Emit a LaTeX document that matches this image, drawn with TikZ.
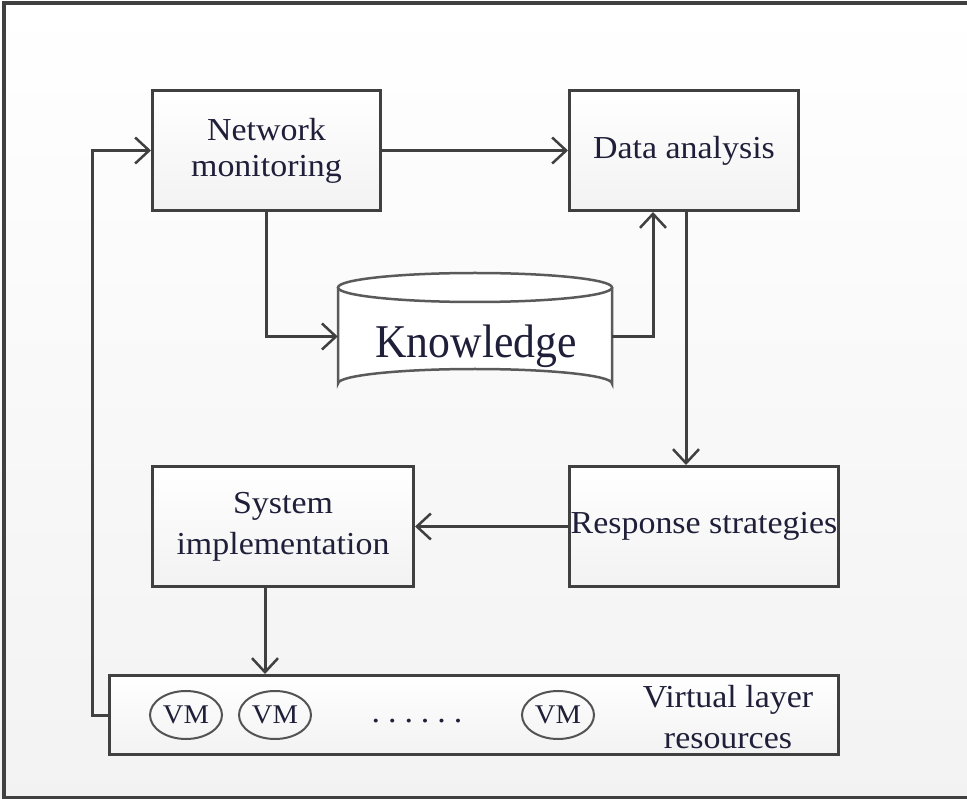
\documentclass[tikz,border=0pt]{standalone}
\usepackage{fontspec}
\setmainfont[FakeStretch=1.06]{Liberation Serif}
\newfontfamily\knowfont[FakeStretch=0.93]{Liberation Serif}
\usetikzlibrary{arrows.meta,shapes.geometric}
\definecolor{ink}{HTML}{1F1F3A}
\definecolor{edge}{HTML}{404040}
\definecolor{drum}{HTML}{5A5A5A}

\begin{document}
\begin{tikzpicture}[x=1pt,y=-1pt,
  box/.style={draw=edge, line width=3pt, top color=white, bottom color=black!5,
    text=ink, font=\fontsize{32}{33}\selectfont, align=center, inner sep=0pt},
  arr/.style={draw=edge, line width=3pt,
    -{Straight Barb[length=14pt,width=26pt,line width=2.5pt]}},
  vm/.style={ellipse, draw=edge!90, line width=2pt, minimum width=72pt,
    minimum height=48pt, inner sep=0pt, text=ink, font=\fontsize{27}{28}\selectfont},
  plain/.style={text=ink, font=\fontsize{32}{33}\selectfont, align=center, inner sep=0pt},
]
\useasboundingbox (0,0) rectangle (967,799);
% page background and frame
\fill[top color=white, bottom color=black!5] (0,0) rectangle (967,799);
\draw[edge, line width=4pt] (967,3.5) -- (3.5,3.5) -- (3.5,798) -- (967,798);

% process boxes
\node[box, minimum width=228pt, minimum height=120pt,
      font=\fontsize{32}{36}\selectfont] (nm) at (266.5,150.5) {Network\\monitoring};
\node[box, minimum width=229pt, minimum height=120pt] (da) at (684,150.5) {Data analysis};
\node[box, minimum width=269pt, minimum height=120pt] (rs) at (704,526.5) {Response strategies};
\node[box, minimum width=261pt, minimum height=120pt,
      font=\fontsize{32}{41}\selectfont] (si) at (283,526.5) {System\\implementation};
\node[box, minimum width=729pt, minimum height=79pt] (vl) at (474,715) {};

% knowledge store drawn as a drum
\node[inner sep=0pt, minimum width=274pt, minimum height=110pt] (know) at (475,336.5) {};
\draw[drum, line width=2.5pt, fill=white]
  (338,287.5) -- (338,383.5) arc[start angle=180, end angle=360, x radius=137, y radius=14.5]
  -- (612,287.5);
\draw[drum, line width=2.5pt, fill=white] (475,287.5) ellipse[x radius=137, y radius=14.5];
\node[text=ink, font=\knowfont\fontsize{47}{48}\selectfont, inner sep=0pt, anchor=base] at (476,358) {Knowledge};

% virtual layer contents
\node[vm] (vm1) at (186,715) {VM};
\node[vm] (vm2) at (275,715) {VM};
\node[vm] (vm3) at (558,715) {VM};
\node[plain, anchor=base] (dots) at (417,722)
  {.\hspace{8pt}.\hspace{8pt}.\hspace{8pt}.\hspace{8pt}.\hspace{8pt}.};
\node[plain, font=\fontsize{32}{41}\selectfont, anchor=base] (vltext) at (728,748)
  {Virtual layer\\resources};

% connectors
\draw[arr] (nm.east) -- (da.west);
\draw[arr] (nm.south) |- (know.west);
\draw[arr] (know.east) -| ([xshift=85pt]da.south west);
\draw[arr] ([xshift=118pt]da.south west) -- ([xshift=118pt]da.south west |- rs.north);
\draw[arr] (rs.west) -- (si.east);
\draw[arr] ([xshift=114pt]si.south west) -- ([xshift=114pt]si.south west |- vl.north);
\draw[arr] (vl.west) -- ++(-16,0) |- (nm.west);
\end{tikzpicture}
\end{document}
